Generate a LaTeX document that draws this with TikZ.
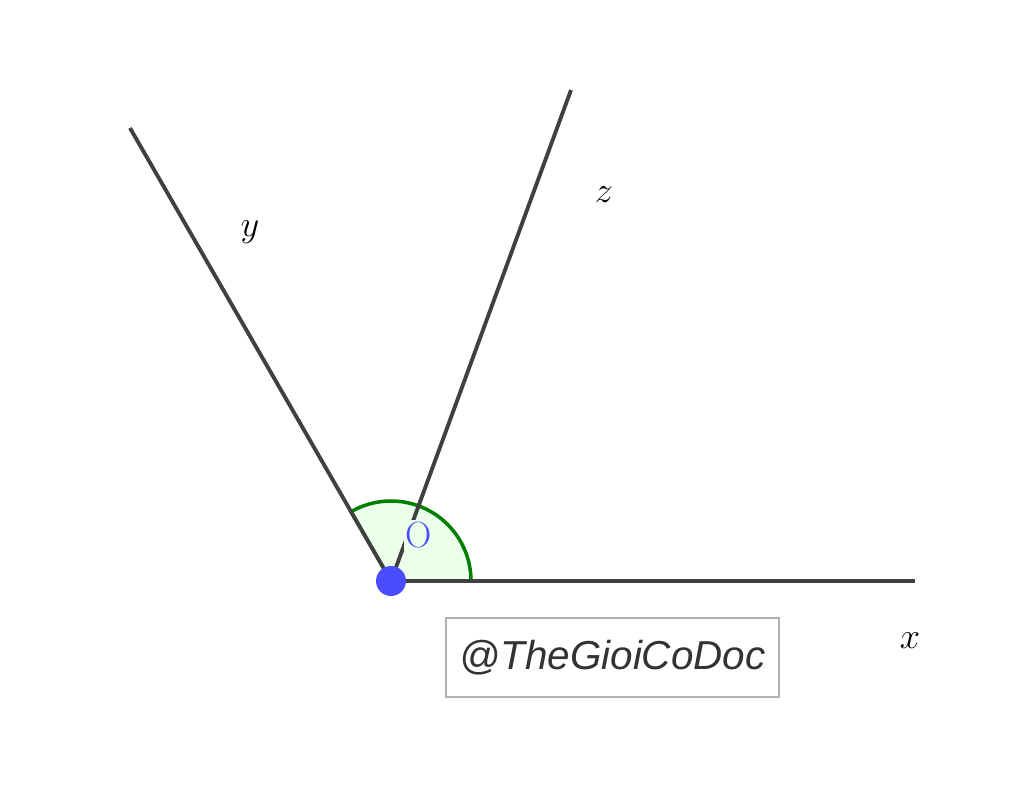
\documentclass[tikz,border=0pt]{standalone}
\usepackage{fontspec}
\newfontfamily\markfont{Liberation Sans}
\usetikzlibrary{calc}
\tikzset{
  ray/.style={draw=black!75, line width=2.2pt},
  anglemark/.style={draw=green!50!black, fill=green!8, line width=2pt},
  raylabel/.style={font=\huge},
}
\begin{document}
\begin{tikzpicture}[x=0.02cm,y=-0.02cm]
\useasboundingbox (0,0) rectangle (1024,794);
\coordinate (O) at (391,581);
\coordinate (xend) at (915,581);
\coordinate (yend) at (130,128);
\coordinate (zend) at (571,90);
\filldraw[anglemark] (O) -- ++(80,0) arc[start angle=0, end angle=-120, radius=80] -- cycle;
\draw[ray] (O) -- (xend);
\draw[ray] (O) -- (yend);
\draw[ray] (O) -- (zend);
\node[text=blue!70, fill=green!8, inner sep=1pt, font=\huge] (olabel) at (419,535) {O};
\fill[blue!70] (O) circle[radius=15];
\node[raylabel] (xlabel) at (910,641) {$x$};
\node[raylabel] (ylabel) at (250,232) {$y$};
\node[raylabel] (zlabel) at (604,195) {$z$};
\node[draw=black!30, line width=1pt, minimum width=333*0.02cm, minimum height=79*0.02cm,
  font=\markfont\itshape\fontsize{23}{27}\selectfont, text=black!80] (mark) at (612.5,657.5) {@TheGioiCoDoc};
\end{tikzpicture}
\end{document}
